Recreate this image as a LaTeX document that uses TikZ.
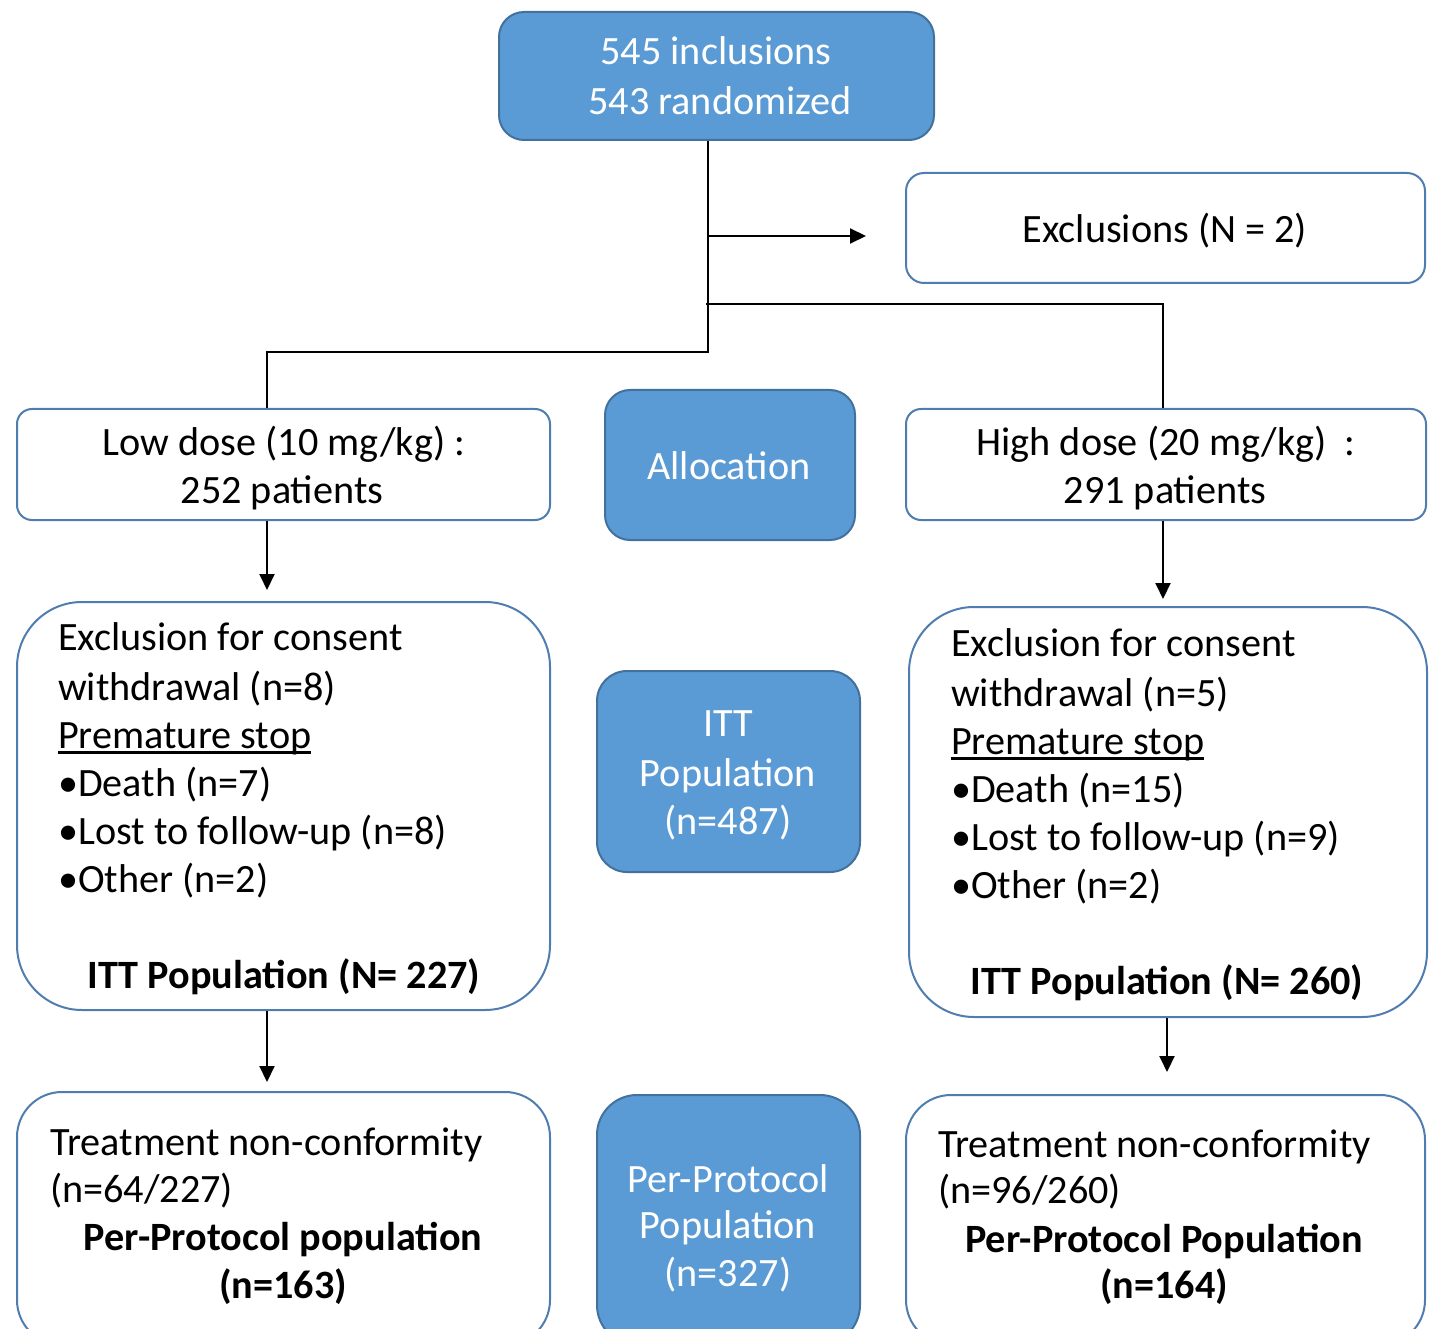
\documentclass[tikz,border=0pt]{standalone}
\usepackage{fontspec}
\setmainfont{Carlito}
\usetikzlibrary{arrows.meta}
\definecolor{boxblue}{RGB}{91,155,213}
\definecolor{blueedge}{RGB}{65,113,156}
\definecolor{wedge}{RGB}{80,125,175}
\newcommand{\fsz}{\fontsize{40.2}{48}\selectfont}
\newcommand{\myul}[1]{\setbox0\hbox{#1}\rlap{\rule[-6pt]{\wd0}{2.6pt}}#1}
\tikzset{
  bluebox/.style={draw=blueedge, fill=boxblue, line width=2pt, rectangle, inner sep=0pt},
  whitebox/.style={draw=wedge, fill=white, line width=2pt, rectangle, inner sep=0pt},
  txt/.style={inner sep=0pt, anchor=base, font=\fsz},
  txtl/.style={inner sep=0pt, anchor=base west, font=\fsz},
  wtxt/.style={txt, text=white},
  btxt/.style={txt, font=\fsz\bfseries},
  conn/.style={line width=2pt, draw=black},
  arr/.style={conn, -{Triangle[length=16pt,width=15pt]}}
}
\begin{document}
\begin{tikzpicture}[x=1pt,y=-1pt]
\useasboundingbox (0,0) rectangle (1430,1329);
\clip (0,0) rectangle (1430,1329);
% boxes
\node[bluebox, rounded corners=25pt, minimum width=435pt, minimum height=128pt] (top) at (716.5,76) {};
\node[whitebox, rounded corners=18pt, minimum width=519pt, minimum height=110pt] (excl) at (1165.5,228) {};
\node[whitebox, rounded corners=15pt, minimum width=533pt, minimum height=111pt] (low) at (283.5,464.5) {};
\node[bluebox, rounded corners=25pt, minimum width=250pt, minimum height=150pt] (alloc) at (730,465) {};
\node[whitebox, rounded corners=15pt, minimum width=520pt, minimum height=111pt] (high) at (1166,464.5) {};
\node[whitebox, rounded corners=65pt, minimum width=533pt, minimum height=408pt] (lbig) at (283.5,806) {};
\node[bluebox, rounded corners=30pt, minimum width=263pt, minimum height=201pt] (itt) at (728.5,771.5) {};
\node[whitebox, rounded corners=65pt, minimum width=518pt, minimum height=410pt] (rbig) at (1168,812) {};
\node[whitebox, rounded corners=45pt, minimum width=533pt, minimum height=253pt] (lpp) at (283.5,1218.5) {};
\node[bluebox, rounded corners=40pt, minimum width=263pt, minimum height=250pt] (pp) at (728.5,1220) {};
\node[whitebox, rounded corners=45pt, minimum width=519pt, minimum height=250pt] (rpp) at (1165.5,1220) {};
% texts
\node[wtxt] (top1) at (716,65) {545 inclusions};
\node[wtxt] (top2) at (720,115) {543 randomized};
\node[txt] (excl1) at (1165,243) {Exclusions (N = 2)};
\node[txt] (low1) at (284,456) {Low dose (10 mg/kg) :};
\node[txt] (low2) at (282,503) {252 patients};
\node[wtxt] (alloc1) at (729,479) {Allocation};
\node[txt] (high1) at (1166,456) {High dose (20 mg/kg)\ \ :};
\node[txt] (high2) at (1165,503) {291 patients};
\node[txtl] (lb1) at (58,650) {Exclusion for consent};
\node[txtl] (lb2) at (58,700) {withdrawal (n=8)};
\node[txtl] (lb3) at (58,748) {\myul{Premature stop}};
\node[txtl] (lb4) at (58,796) {•Death (n=7)};
\node[txtl] (lb5) at (58,844) {•Lost to follow-up (n=8)};
\node[txtl] (lb6) at (58,892) {•Other (n=2)};
\node[btxt] (lb7) at (284,988) {ITT Population (N= 227)};
\node[wtxt] (itt1) at (728,736) {ITT};
\node[wtxt] (itt2) at (728,786) {Population};
\node[wtxt] (itt3) at (728,834) {(n=487)};
\node[txtl] (rb1) at (951,656) {Exclusion for consent};
\node[txtl] (rb2) at (951,706) {withdrawal (n=5)};
\node[txtl] (rb3) at (951,754) {\myul{Premature stop}};
\node[txtl] (rb4) at (951,802) {•Death (n=15)};
\node[txtl] (rb5) at (951,850) {•Lost to follow-up (n=9)};
\node[txtl] (rb6) at (951,898) {•Other (n=2)};
\node[btxt] (rb7) at (1167,994) {ITT Population (N= 260)};
\node[txtl] (lp1) at (50,1155) {Treatment non-conformity};
\node[txtl] (lp2) at (50,1202) {(n=64/227)};
\node[btxt] (lp3) at (283,1250) {Per-Protocol population};
\node[btxt] (lp4) at (283,1298) {(n=163)};
\node[wtxt] (pp1) at (728,1192) {Per-Protocol};
\node[wtxt] (pp2) at (728,1238) {Population};
\node[wtxt] (pp3) at (728,1286) {(n=327)};
\node[txtl] (rp1) at (938,1157) {Treatment non-conformity};
\node[txtl] (rp2) at (938,1203) {(n=96/260)};
\node[btxt] (rp3) at (1164,1252) {Per-Protocol Population};
\node[btxt] (rp4) at (1164,1298) {(n=164)};
% junction coordinates
\coordinate (jA) at (708,236);
\coordinate (exTip) at (866,236);
\coordinate (jB) at (706,304);
\coordinate (jC) at (708,352);
\coordinate (lowx) at (267,0);
\coordinate (highx) at (1163,0);
\coordinate (rbx) at (1167,0);
% connectors
\draw[conn] (top.south -| jC) -- (jC) -- (jC -| lowx) -- (lowx |- low.north);
\draw[arr] (jA) -- (exTip);
\draw[conn] (jB) -- (jB -| highx) -- (highx |- high.north);
\draw[arr, shorten >=11pt] (lowx |- low.south) -- (lowx |- lbig.north);
\draw[arr, shorten >=7pt] (highx |- high.south) -- (highx |- rbig.north);
\draw[arr, shorten >=9pt] (lowx |- lbig.south) -- (lowx |- lpp.north);
\draw[arr, shorten >=22pt] (rbx |- rbig.south) -- (rbx |- rpp.north);
\end{tikzpicture}
\end{document}
